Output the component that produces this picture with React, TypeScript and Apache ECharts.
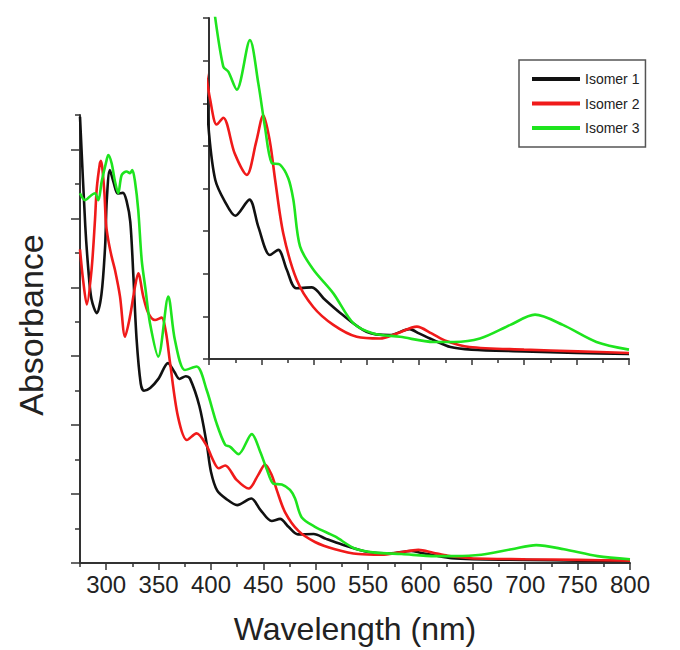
import React, { useEffect, useRef } from "react";
import * as echarts from "echarts";

// ---- data ----
const wl1 = [275, 280, 283, 286, 291, 295.5, 299, 300.5, 303.5, 307, 311, 316, 319.5, 323, 326, 329, 333, 336, 342, 350, 359, 365, 370, 376, 380, 389, 396, 400, 406, 415, 425, 438.5, 447, 458, 466, 474, 483, 498, 510, 525, 550, 572, 591, 600, 614, 630, 650, 700, 750, 800];
const abs1 = [12.95, 9.8, 8.5, 7.65, 7.25, 7.8, 9.2, 10.5, 11.4, 11.05, 10.72, 10.74, 10.5, 9.9, 8.3, 6.5, 5.2, 5.0, 5.08, 5.35, 5.8, 5.55, 5.34, 5.42, 5.35, 4.55, 3.45, 2.65, 2.1, 1.85, 1.68, 1.87, 1.55, 1.22, 1.28, 1.05, 0.83, 0.84, 0.7, 0.54, 0.32, 0.28, 0.35, 0.3, 0.22, 0.14, 0.11, 0.09, 0.07, 0.06];

const wl2 = [275, 278, 281.5, 286, 289.3, 291, 294, 295, 298.2, 299.8, 302, 305.2, 308.4, 313.2, 318, 322.7, 327.5, 330.6, 335.4, 340.2, 346.6, 353, 357, 361, 368.5, 377, 386.3, 396, 401, 407.3, 413.6, 424.5, 436, 445, 451.7, 458, 463, 470.8, 483.5, 499.3, 518.4, 540.7, 563, 579, 598, 612, 626, 648, 700, 751, 800];
const abs2 = [9.1, 8.2, 7.5, 8.5, 9.95, 10.87, 11.6, 11.67, 10.78, 9.85, 9.37, 8.89, 8.5, 7.73, 6.57, 7.15, 8.02, 8.41, 7.73, 7.25, 7.05, 7.12, 6.7, 5.8, 4.25, 3.57, 3.76, 3.4, 3.05, 2.75, 2.83, 2.41, 2.16, 2.55, 2.86, 2.55, 2.1, 1.47, 0.93, 0.61, 0.4, 0.26, 0.24, 0.3, 0.38, 0.3, 0.21, 0.14, 0.11, 0.09, 0.07];

const wl3 = [275, 279.8, 286.1, 289.3, 292.5, 295.7, 300.4, 302, 305.2, 308.4, 311.5, 314.8, 319.5, 322.7, 324.9, 327.5, 330.6, 333.9, 337.5, 341.8, 349.7, 359.3, 365.6, 375.2, 386.3, 395.9, 405.4, 413.6, 418.4, 426.4, 439, 447, 453.3, 459.7, 467.6, 475.5, 480.3, 486.7, 499.3, 518.4, 537.4, 556.5, 582, 614, 633, 658, 687, 710.5, 737, 769, 800];
const abs3 = [10.73, 10.53, 10.68, 10.73, 10.53, 11.07, 11.69, 11.84, 11.6, 11.07, 10.73, 11.26, 11.36, 11.31, 11.4, 11.07, 10.24, 8.79, 7.95, 6.96, 5.99, 7.73, 6.47, 5.6, 5.7, 5.02, 4.05, 3.43, 3.37, 3.16, 3.74, 3.23, 2.72, 2.3, 2.28, 2.12, 1.87, 1.32, 1.05, 0.77, 0.42, 0.3, 0.26, 0.2, 0.2, 0.24, 0.4, 0.52, 0.4, 0.2, 0.11];

const seriesNames = ["Isomer 1", "Isomer 2", "Isomer 3"];
const seriesColors = ["#111111", "#f01a1a", "#1ee41e"];

const xMajorTicks = [300, 350, 400, 450, 500, 550, 600, 650, 700, 750, 800];
const xMinorTicks = [275, 325, 375, 425, 475, 525, 575, 625, 675, 725, 775];
const yMajorTicks = [0, 2, 4, 6, 8, 10, 12];
const yMinorTicks = [1, 3, 5, 7, 9, 11, 13];

const FONT = "'Liberation Sans', Arial, sans-serif";
const AXIS = "#333";

export default function App() {
  const ref = useRef<HTMLDivElement>(null);

  useEffect(() => {
    if (!ref.current) return;
    const chart = echarts.init(ref.current, undefined, { renderer: "svg" });

    const pairs = (w: number[], a: number[]) => w.map((x, i) => [x, a[i]]);
    const datasets = [pairs(wl1, abs1), pairs(wl2, abs2), pairs(wl3, abs3)];

    const lineSeries = (idx: number, xi: number, yi: number) => ({
      type: "line",
      name: seriesNames[idx],
      data: datasets[idx],
      xAxisIndex: xi,
      yAxisIndex: yi,
      showSymbol: false,
      smooth: 0.3,
      clip: true,
      lineStyle: { color: seriesColors[idx], width: 2.6 },
      itemStyle: { color: seriesColors[idx] },
      z: 3,
    });

    const option: any = {
      animation: false,
      backgroundColor: "#fff",
      textStyle: { fontFamily: FONT },
      grid: [
        { left: 80, top: 115, width: 550, height: 448 },
        { left: 209, top: 18, width: 420, height: 341 },
      ],
      xAxis: [
        {
          type: "value",
          gridIndex: 0,
          min: 275,
          max: 800,
          position: "bottom",
          axisLine: { show: true, onZero: false, lineStyle: { color: AXIS, width: 2 } },
          axisTick: { show: true, customValues: xMajorTicks, length: 7, lineStyle: { color: AXIS, width: 1.5 } },
          axisLabel: { show: true, customValues: xMajorTicks, fontSize: 24, color: "#222", margin: 9, fontFamily: FONT },
          splitLine: { show: false },
        },
        {
          type: "value",
          gridIndex: 0,
          min: 275,
          max: 800,
          position: "bottom",
          axisLine: { show: false, onZero: false },
          axisTick: { show: true, customValues: xMinorTicks, length: 4, lineStyle: { color: AXIS, width: 1.5 } },
          axisLabel: { show: false },
          splitLine: { show: false },
        },
        {
          type: "value",
          gridIndex: 1,
          min: 400,
          max: 800,
          interval: 50,
          position: "bottom",
          axisLine: { show: true, onZero: false, lineStyle: { color: AXIS, width: 2 } },
          axisTick: { show: true, length: 6, lineStyle: { color: AXIS, width: 1.5 } },
          minorTick: { show: true, splitNumber: 2, length: 4, lineStyle: { color: AXIS, width: 1.5 } },
          axisLabel: { show: false },
          splitLine: { show: false },
        },
      ],
      yAxis: [
        {
          type: "value",
          gridIndex: 0,
          min: 0,
          max: 13,
          position: "left",
          axisLine: { show: true, onZero: false, lineStyle: { color: AXIS, width: 2 } },
          axisTick: { show: true, customValues: yMajorTicks, length: 9, lineStyle: { color: AXIS, width: 1.5 } },
          axisLabel: { show: false },
          splitLine: { show: false },
        },
        {
          type: "value",
          gridIndex: 0,
          min: 0,
          max: 13,
          position: "left",
          axisLine: { show: false, onZero: false },
          axisTick: { show: true, customValues: yMinorTicks, length: 5, lineStyle: { color: AXIS, width: 1.5 } },
          axisLabel: { show: false },
          splitLine: { show: false },
        },
        {
          type: "value",
          gridIndex: 1,
          min: 0,
          max: 4,
          interval: 0.5,
          position: "left",
          axisLine: { show: true, onZero: false, lineStyle: { color: AXIS, width: 2 } },
          axisTick: { show: true, length: 6, lineStyle: { color: AXIS, width: 1.5 } },
          axisLabel: { show: false },
          splitLine: { show: false },
        },
      ],
      legend: {
        data: seriesNames,
        orient: "vertical",
        left: 519,
        top: 60,
        padding: [12, 6, 12, 13],
        itemWidth: 48,
        itemHeight: 4,
        itemGap: 10.5,
        icon: "rect",
        borderColor: "#555",
        borderWidth: 1.5,
        textStyle: { fontSize: 14, color: "#222", fontFamily: FONT },
        selectedMode: false,
      },
      graphic: [
        {
          type: "text",
          x: 355,
          y: 629,
          style: { text: "Wavelength (nm)", fontSize: 32, fill: "#222", fontFamily: FONT, align: "center", verticalAlign: "middle" },
        },
        {
          type: "text",
          x: 31,
          y: 325,
          rotation: Math.PI / 2,
          style: { text: "Absorbance", fontSize: 34, fill: "#222", fontFamily: FONT, align: "center", verticalAlign: "middle" },
        },
      ],
      series: [
        lineSeries(0, 0, 0),
        lineSeries(1, 0, 0),
        lineSeries(2, 0, 0),
        lineSeries(0, 2, 2),
        lineSeries(1, 2, 2),
        lineSeries(2, 2, 2),
      ],
    };

    chart.setOption(option);
    return () => chart.dispose();
  }, []);

  return <div ref={ref} style={{ position: "absolute", left: 0, top: 0, width: 680, height: 650 }} />;
}
